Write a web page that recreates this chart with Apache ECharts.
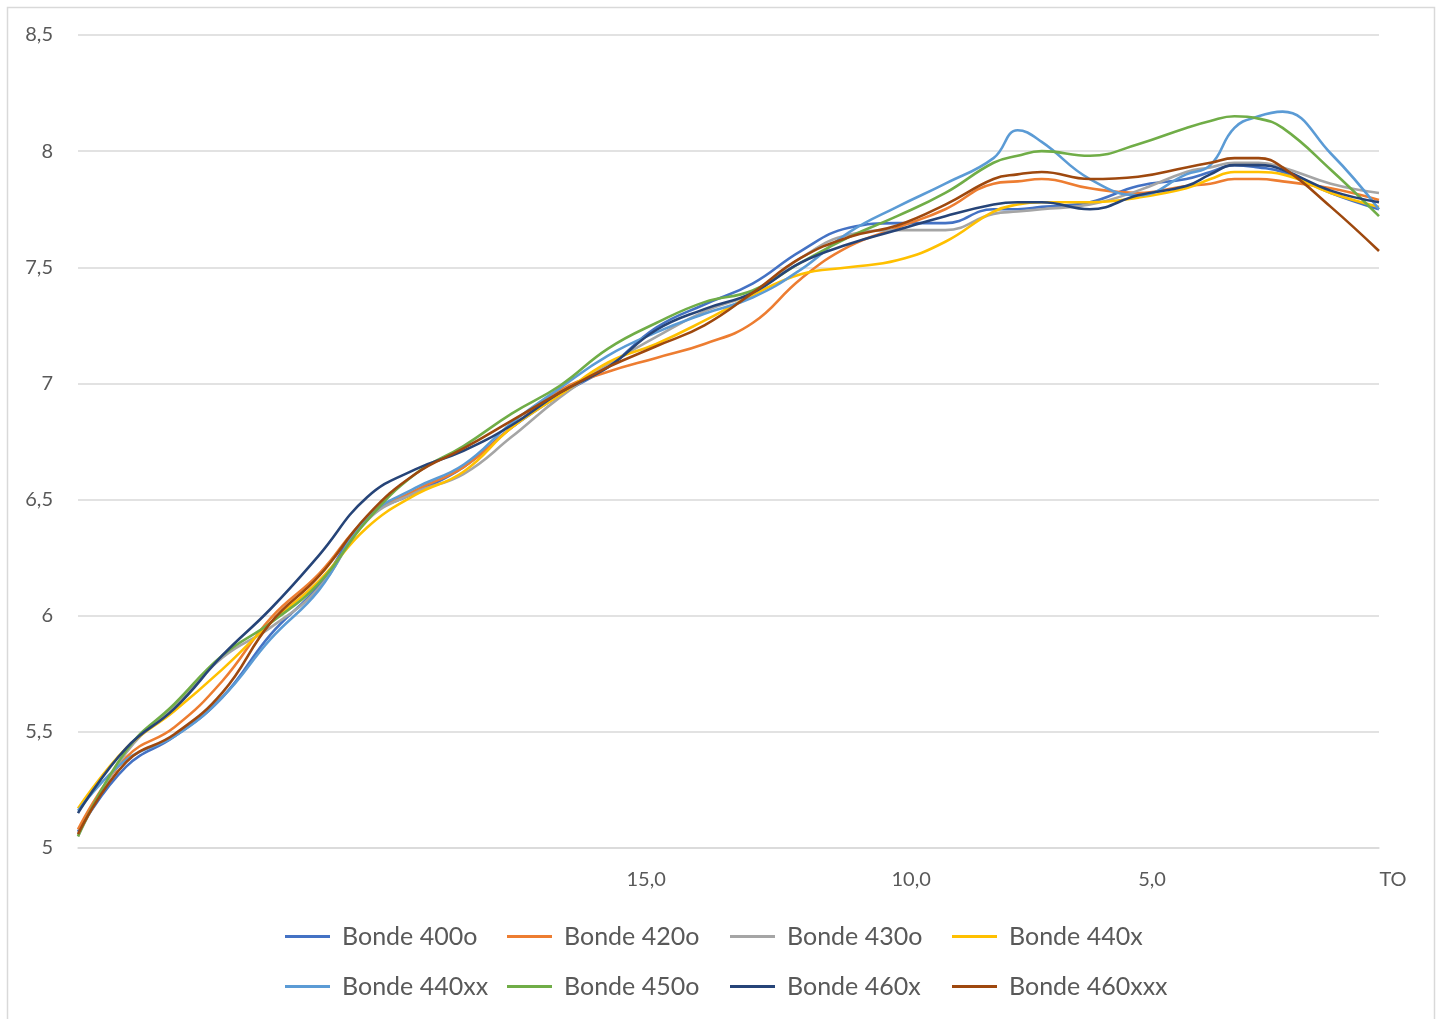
<!DOCTYPE html>
<html>
<head>
<meta charset="utf-8">
<script src="https://cdn.jsdelivr.net/npm/echarts@6/dist/echarts.min.js"></script>
<style>
  html, body { margin: 0; padding: 0; background: #fff; }
  #chart { width: 1442px; height: 1019px; }
</style>
</head>
<body>
<div id="chart"></div>
<script>
// category positions (0 = first reading, 54 = TO)
const xIdx = [0, 2, 4, 6, 8, 10, 12, 14, 16, 18, 20, 22, 24, 26, 28, 30, 32, 34, 36, 38, 39, 40, 42, 44, 46, 47, 48, 49, 50, 52, 54];
const tickPos = [23, 34, 44, 54];
const tickLabels = ['15,0', '10,0', '5,0', 'TO'];

const seriesNames = ['Bonde 400o', 'Bonde 420o', 'Bonde 430o', 'Bonde 440x', 'Bonde 440xx', 'Bonde 450o', 'Bonde 460x', 'Bonde 460xxx'];
const colors = ['#4472C4', '#ED7D31', '#A5A5A5', '#FFC000', '#5B9BD5', '#70AD47', '#264478', '#9E480E'];

const bonde400o = [5.07, 5.35, 5.48, 5.65, 5.92, 6.13, 6.42, 6.53, 6.64, 6.81, 6.95, 7.07, 7.24, 7.34, 7.43, 7.57, 7.67, 7.69, 7.69, 7.75, 7.75, 7.76, 7.78, 7.85, 7.88, 7.91, 7.94, 7.93, 7.91, 7.82, 7.75];
const bonde420o = [5.08, 5.39, 5.52, 5.72, 5.99, 6.18, 6.42, 6.54, 6.64, 6.81, 6.97, 7.05, 7.11, 7.17, 7.26, 7.45, 7.59, 7.67, 7.75, 7.86, 7.87, 7.88, 7.84, 7.82, 7.85, 7.86, 7.88, 7.88, 7.87, 7.84, 7.79];
const bonde430o = [5.05, 5.41, 5.61, 5.82, 5.95, 6.12, 6.41, 6.53, 6.61, 6.77, 6.94, 7.08, 7.20, 7.31, 7.39, 7.54, 7.64, 7.66, 7.66, 7.73, 7.74, 7.75, 7.77, 7.83, 7.91, 7.93, 7.95, 7.95, 7.93, 7.86, 7.82];
const bonde440x = [5.17, 5.43, 5.59, 5.77, 5.97, 6.15, 6.38, 6.52, 6.62, 6.81, 6.95, 7.09, 7.17, 7.27, 7.38, 7.47, 7.50, 7.53, 7.61, 7.74, 7.77, 7.78, 7.78, 7.80, 7.84, 7.88, 7.91, 7.91, 7.90, 7.82, 7.76];
const bonde440xx = [5.16, 5.38, 5.48, 5.65, 5.90, 6.11, 6.42, 6.55, 6.65, 6.83, 6.98, 7.12, 7.22, 7.30, 7.37, 7.49, 7.65, 7.76, 7.86, 7.97, 8.09, 8.04, 7.88, 7.81, 7.90, 7.94, 8.10, 8.15, 8.17, 7.99, 7.75];
const bonde450o = [5.05, 5.42, 5.62, 5.83, 5.97, 6.14, 6.41, 6.61, 6.73, 6.87, 6.99, 7.15, 7.26, 7.35, 7.40, 7.52, 7.63, 7.72, 7.82, 7.95, 7.98, 8.00, 7.98, 8.03, 8.10, 8.13, 8.15, 8.14, 8.10, 7.92, 7.72];
const bonde460x = [5.15, 5.43, 5.60, 5.83, 6.03, 6.26, 6.51, 6.63, 6.71, 6.82, 6.96, 7.07, 7.23, 7.32, 7.39, 7.52, 7.60, 7.66, 7.72, 7.77, 7.78, 7.78, 7.75, 7.81, 7.85, 7.90, 7.94, 7.94, 7.92, 7.83, 7.78];
const bonde460xxx = [5.06, 5.37, 5.49, 5.67, 5.97, 6.17, 6.43, 6.61, 6.72, 6.84, 6.96, 7.07, 7.16, 7.25, 7.39, 7.54, 7.63, 7.68, 7.77, 7.88, 7.90, 7.91, 7.88, 7.89, 7.93, 7.95, 7.97, 7.97, 7.93, 7.76, 7.57];

const allValues = [bonde400o, bonde420o, bonde430o, bonde440x, bonde440xx, bonde450o, bonde460x, bonde460xxx];

const font = 'Lato, "Noto Sans", sans-serif';

const chart = echarts.init(document.getElementById('chart'));

const series = seriesNames.map((name, s) => ({
  name: name,
  type: 'line',
  smooth: 0.45,
  symbol: 'none',
  data: xIdx.map((x, i) => [x, allValues[s][i]]),
  lineStyle: { width: 2.6, color: colors[s] },
  itemStyle: { color: colors[s] }
}));

// one legend per entry so the columns line up like the original (4 x 2 grid)
const legendLeft = [285, 507, 730, 952];
const legendTop = [924, 974];
const legends = seriesNames.map((name, i) => ({
  left: legendLeft[i % 4],
  top: legendTop[Math.floor(i / 4)],
  padding: 0,
  icon: 'rect',
  itemWidth: 45,
  itemHeight: 3,
  textStyle: {
    color: '#595959',
    fontFamily: font,
    fontSize: 25,
    padding: [0, 0, 0, 7]
  },
  data: [name]
}));

const option = {
  backgroundColor: '#fff',
  animation: false,
  graphic: [{
    type: 'rect',
    silent: true,
    shape: { x: 7.5, y: 7.5, width: 1427, height: 1040 },
    style: { fill: 'none', stroke: '#D9D9D9', lineWidth: 1.5 }
  }],
  grid: { left: 78, right: 63, top: 35, bottom: 171 },
  xAxis: {
    type: 'value',
    min: 0,
    max: 54,
    axisLine: { show: true, lineStyle: { color: '#D9D9D9', width: 1.5 } },
    axisTick: { show: false },
    splitLine: { show: false },
    axisLabel: {
      customValues: tickPos,
      margin: 22,
      padding: [0, 0, 0, 28],
      color: '#595959',
      fontSize: 20,
      fontFamily: font,
      formatter: v => {
        const k = tickPos.indexOf(v);
        return k >= 0 ? tickLabels[k] : '';
      }
    }
  },
  yAxis: {
    type: 'value',
    min: 5,
    max: 8.5,
    interval: 0.5,
    axisLine: { show: false },
    axisTick: { show: false },
    splitLine: { lineStyle: { color: '#D9D9D9', width: 1.5 } },
    axisLabel: {
      margin: 25,
      color: '#595959',
      fontSize: 20,
      fontFamily: font,
      formatter: v => String(v).replace('.', ',')
    }
  },
  legend: legends,
  series: series
};

chart.setOption(option);
</script>
</body>
</html>
